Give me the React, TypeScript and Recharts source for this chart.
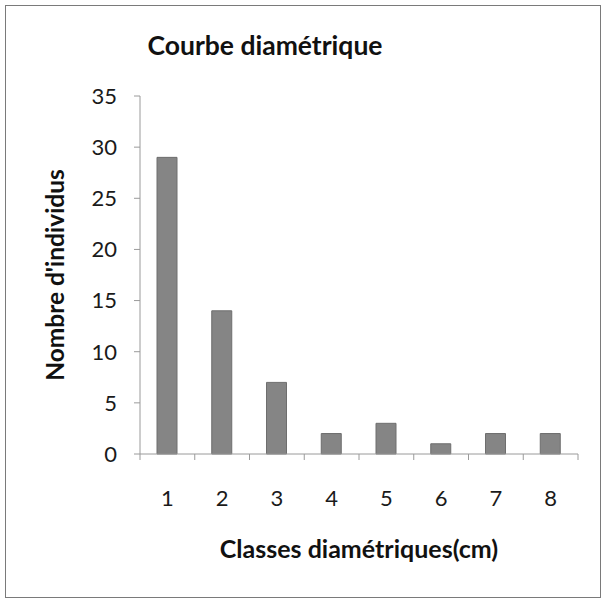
import React from "react";
import { BarChart, Bar, XAxis, YAxis, Label } from "recharts";

const classes = ["1", "2", "3", "4", "5", "6", "7", "8"];
const individus = [29, 14, 7, 2, 3, 1, 2, 2];
const yTicks = [0, 5, 10, 15, 20, 25, 30, 35];

const data = classes.map((c, i) => ({ classe: c, n: individus[i] }));

const FONT = "Lato, 'Noto Sans', sans-serif";
const AXIS = "#9a9a9a";
const TICK_SIZE = 6;
const X_TICK_MARGIN = 30;

// category ticks: label in the middle, tick marks on the class boundaries
function ClassTick(props: any) {
  const { x, y, payload, index, visibleTicksCount } = props;
  const half = payload.offset ?? 27;
  const axisY = y - TICK_SIZE - X_TICK_MARGIN;
  const last = index === visibleTicksCount - 1;
  return (
    <g>
      <line x1={x - half} y1={axisY} x2={x - half} y2={axisY + TICK_SIZE} stroke={AXIS} />
      {last && (
        <line x1={x + half} y1={axisY} x2={x + half} y2={axisY + TICK_SIZE} stroke={AXIS} />
      )}
      <text x={x} y={y} dy="0.71em" textAnchor="middle" fill="#1a1a1a" fontSize={22} fontFamily={FONT}>
        {payload.value}
      </text>
    </g>
  );
}

export default function App() {
  return (
    <div style={{ position: "absolute", left: 0, top: 0, width: 602, height: 599, background: "#fff" }}>
      <div
        style={{
          position: "absolute",
          left: 5,
          top: 5,
          width: 594,
          height: 591,
          border: "1px solid #7a7a7a",
        }}
      />
      <div
        style={{
          position: "absolute",
          left: 0,
          top: 29,
          width: 530,
          textAlign: "center",
          fontFamily: FONT,
          fontWeight: 700,
          fontSize: 26.5,
          lineHeight: "32px",
          color: "#111",
        }}
      >
        Courbe diamétrique
      </div>
      <BarChart
        width={602}
        height={599}
        data={data}
        margin={{ top: 96, right: 24, left: 0, bottom: 0 }}
        barCategoryGap={0}
        style={{ position: "absolute", left: 0, top: 0 }}
      >
        <XAxis
          dataKey="classe"
          height={145}
          stroke={AXIS}
          tickLine={false}
          tickSize={TICK_SIZE}
          tickMargin={X_TICK_MARGIN}
          tick={<ClassTick />}
          interval={0}
        >
          <Label
            value="Classes diamétriques(cm)"
            position="insideBottom"
            offset={41}
            fill="#111"
            fontSize={25}
            fontWeight={700}
            fontFamily={FONT}
          />
        </XAxis>
        <YAxis
          width={140}
          domain={[0, 35]}
          ticks={yTicks}
          interval={0}
          stroke={AXIS}
          tickSize={TICK_SIZE}
          tickMargin={17}
          tick={{ fill: "#1a1a1a", fontSize: 22, fontFamily: FONT }}
        >
          <Label
            value="Nombre d'individus"
            angle={-90}
            position="insideLeft"
            offset={55}
            fill="#111"
            fontSize={24.5}
            fontWeight={700}
            fontFamily={FONT}
            style={{ textAnchor: "middle" }}
          />
        </YAxis>
        <Bar dataKey="n" barSize={20} fill="#858585" stroke="#6e6e6e" isAnimationActive={false} />
      </BarChart>
    </div>
  );
}
